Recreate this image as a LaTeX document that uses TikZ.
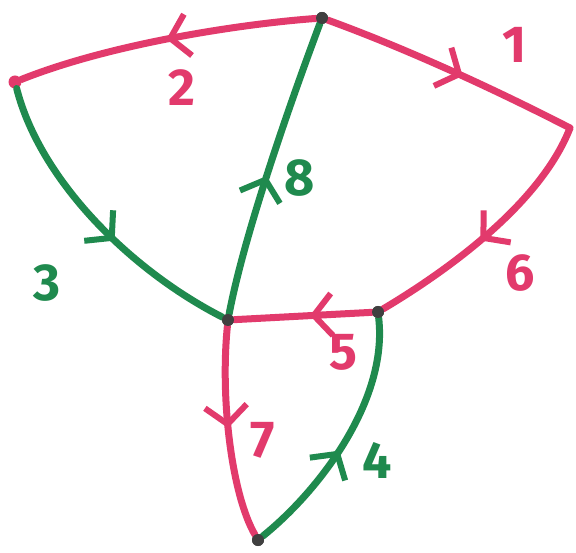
\documentclass[tikz,border=0pt]{standalone}
\usepackage{fontspec}
\setmainfont{Fira Sans}
\usetikzlibrary{arrows.meta,decorations.markings}
\definecolor{pk}{HTML}{E23A6C}
\definecolor{gr}{HTML}{1F8A4E}
\tikzset{
  edge/.style={line width=7pt, line cap=round},
  pinkedge/.style={edge, draw=pk},
  greenedge/.style={edge, draw=gr},
  midarrow/.style={postaction={decorate}, decoration={markings,
     mark=at position #1 with {\arrow[line width=6pt]{Straight Barb[length=18pt,width=42pt]}}}},
  vdot/.style={circle, fill=black!75, inner sep=0pt, minimum size=12pt},
  pdot/.style={circle, fill=pk, inner sep=0pt, minimum size=13pt},
  lbl/.style={font=\fontsize{52}{54}\selectfont\bfseries}
}
\begin{document}
\begin{tikzpicture}[x=1pt,y=-1pt]
\useasboundingbox (0,0) rectangle (576,553);
\fill[white] (0,0) rectangle (576,553);
% vertices
\node[vdot] (A) at (322,18) {};
\node[pdot] (B) at (15,82) {};
\coordinate (C) at (570,128);
\node[vdot] (D) at (228,320) {};
\node[vdot] (E) at (378,312) {};
\node[vdot] (F) at (258,540) {};
% pink edges
\draw[pinkedge, midarrow=0.5] (A) .. controls (240,24) and (110,44) .. (B);
\draw[pinkedge, midarrow=0.55] (A) .. controls (410,50) and (500,92) .. (C);
\draw[pinkedge, midarrow=0.55] (C) .. controls (540,205) and (445,272) .. (E);
\draw[pinkedge, midarrow=0.45] (E) -- (D);
\draw[pinkedge, midarrow=0.48] (D) .. controls (220,400) and (232,495) .. (F);
% green edges
\draw[greenedge, midarrow=0.58] (B) .. controls (40,180) and (130,270) .. (D);
\draw[greenedge, midarrow=0.47] (D) .. controls (245,230) and (295,90) .. (A);
\draw[greenedge, midarrow=0.45] (F) .. controls (320,490) and (388,400) .. (E);
% redraw dots on top
\node[vdot] at (A) {};
\node[vdot] at (D) {};
\node[vdot] at (E) {};
\node[vdot] at (F) {};
% labels
\node[lbl, text=pk] (l1) at (515,45) {1};
\node[lbl, text=pk] (l2) at (182,88) {2};
\node[lbl, text=gr] (l3) at (47,283) {3};
\node[lbl, text=gr] (l4) at (377,460) {4};
\node[lbl, text=pk] (l5) at (343,352) {5};
\node[lbl, text=pk] (l6) at (520,273) {6};
\node[lbl, text=pk] (l7) at (263,440) {7};
\node[lbl, text=gr] (l8) at (300,178) {8};
\end{tikzpicture}
\end{document}
